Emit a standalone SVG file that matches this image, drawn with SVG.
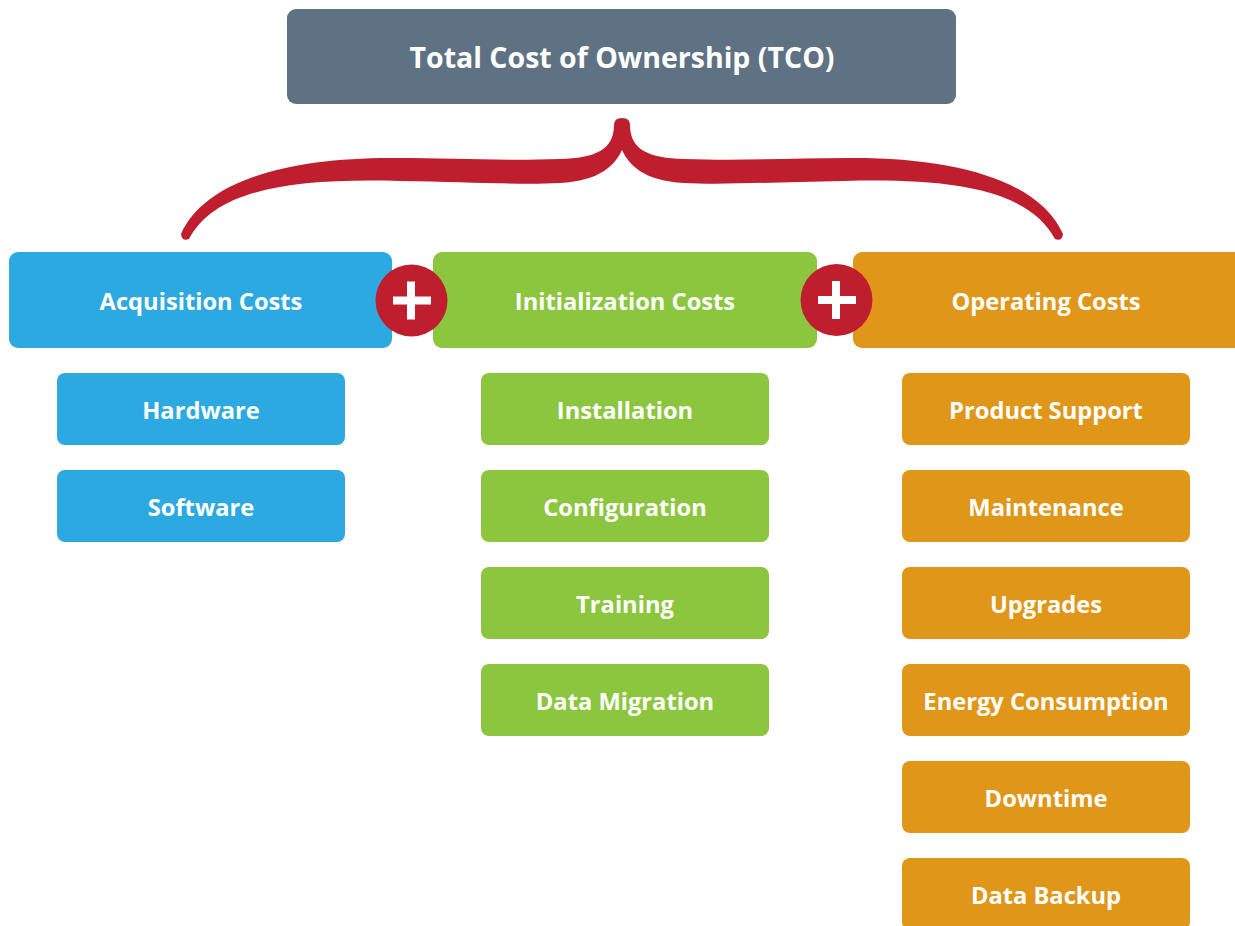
<svg xmlns="http://www.w3.org/2000/svg" width="1235" height="926" viewBox="0 0 1235 926">
<style>
text{font-family:"Open Sans","Liberation Sans",sans-serif;font-weight:bold;fill:#fff;text-anchor:middle}
.t{font-size:28.5px}
.c{font-size:23.7px}
.s{font-size:23.7px}
.blue{fill:#2ca9e1}
.green{fill:#8cc63f}
.orange{fill:#e09619}
.plus{fill:#be1e2d}
</style>
<rect width="1235" height="926" fill="#fff"/>
<g id="connectors">
<path id="brace" fill="#be1e2d" d="M622,118 Q614,118 614,125 C614,150 595,158 560,159 C500,161 450,158 397,158 C290,157 205,180 181,234 Q182,242 189,239 C215,190 290,178 400,181 C470,182 520,185 560,183 C600,181 615,165 622,150 C629,165 644,181 684,183 C724,185 774,182 844,181 C954,178 1029,190 1055,239 Q1062,242 1063,234 C1039,180 954,157 847,158 C794,158 744,161 684,159 C649,158 630,150 630,125 Q630,118 622,118 Z"/>
</g>
<g id="tco"><rect x="287" y="9" width="669" height="95" rx="9" fill="#5f7284"/><text class="t" x="622" y="68">Total Cost of Ownership (TCO)</text></g>
<g id="acq"><rect class="blue" x="9" y="252" width="383" height="96" rx="9"/><text class="c" x="201" y="309.5">Acquisition Costs</text></g>
<g id="init"><rect class="green" x="433" y="252" width="384" height="96" rx="9"/><text class="c" x="625" y="309.5">Initialization Costs</text></g>
<g id="oper"><rect class="orange" x="853" y="252" width="392" height="96" rx="9"/><text class="c" x="1046" y="309.5">Operating Costs</text></g>
<g id="plus1"><circle class="plus" cx="411.5" cy="300.5" r="36"/><rect x="393" y="296.5" width="38" height="8" fill="#fff"/><rect x="407" y="281.5" width="8" height="38" fill="#fff"/></g>
<g id="plus2"><circle class="plus" cx="836.5" cy="300" r="36"/><rect x="818" y="296" width="38" height="8" fill="#fff"/><rect x="832" y="281" width="8" height="38" fill="#fff"/></g>
<g id="hardware"><rect class="blue" x="57" y="373" width="288" height="72" rx="8"/><text class="s" x="201" y="418.5">Hardware</text></g>
<g id="software"><rect class="blue" x="57" y="470" width="288" height="72" rx="8"/><text class="s" x="201" y="515.5">Software</text></g>
<g id="installation"><rect class="green" x="481" y="373" width="288" height="72" rx="8"/><text class="s" x="625" y="418.5">Installation</text></g>
<g id="configuration"><rect class="green" x="481" y="470" width="288" height="72" rx="8"/><text class="s" x="625" y="515.5">Configuration</text></g>
<g id="training"><rect class="green" x="481" y="567" width="288" height="72" rx="8"/><text class="s" x="625" y="612.5">Training</text></g>
<g id="datamigration"><rect class="green" x="481" y="664" width="288" height="72" rx="8"/><text class="s" x="625" y="709.5">Data Migration</text></g>
<g id="productsupport"><rect class="orange" x="902" y="373" width="288" height="72" rx="8"/><text class="s" x="1046" y="418.5">Product Support</text></g>
<g id="maintenance"><rect class="orange" x="902" y="470" width="288" height="72" rx="8"/><text class="s" x="1046" y="515.5">Maintenance</text></g>
<g id="upgrades"><rect class="orange" x="902" y="567" width="288" height="72" rx="8"/><text class="s" x="1046" y="612.5">Upgrades</text></g>
<g id="energy"><rect class="orange" x="902" y="664" width="288" height="72" rx="8"/><text class="s" x="1046" y="709.5">Energy Consumption</text></g>
<g id="downtime"><rect class="orange" x="902" y="761" width="288" height="72" rx="8"/><text class="s" x="1046" y="806.5">Downtime</text></g>
<g id="databackup"><rect class="orange" x="902" y="858" width="288" height="72" rx="8"/><text class="s" x="1046" y="903.5">Data Backup</text></g>
</svg>
